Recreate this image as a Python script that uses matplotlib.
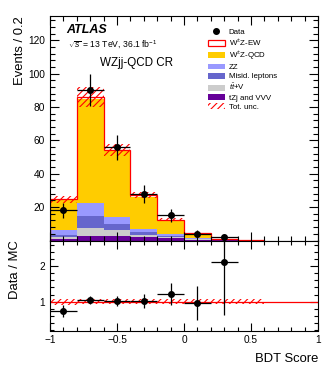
import numpy as np
import matplotlib
matplotlib.use("Agg")
import matplotlib.pyplot as plt
from matplotlib.ticker import MultipleLocator, FixedLocator
from matplotlib.patches import Patch
from matplotlib.lines import Line2D

plt.rcParams['font.family'] = ['Liberation Sans', 'DejaVu Sans']
plt.rcParams['mathtext.fontset'] = 'custom'
plt.rcParams['mathtext.rm'] = 'Liberation Sans'
plt.rcParams['mathtext.it'] = 'Liberation Sans:italic'
plt.rcParams['mathtext.bf'] = 'Liberation Sans:bold'
plt.rcParams['hatch.linewidth'] = 0.8

# ---------------- data ----------------
bin_edges = [-1.0, -0.8, -0.6, -0.4, -0.2, 0.0, 0.2, 0.4, 0.6]
tzj_vvv = [0.6, 2.8, 2.6, 1.8, 1.2, 0.4, 0.05, 0.0]
ttv = [1.2, 4.6, 3.4, 1.6, 0.8, 0.2, 0.05, 0.0]
misid = [1.6, 7.0, 3.8, 1.4, 0.8, 0.3, 0.05, 0.0]
zz = [3.0, 8.0, 4.0, 2.2, 1.0, 0.3, 0.05, 0.0]
wz_qcd = [18.0, 62.6, 39.6, 19.3, 7.6, 2.5, 0.25, 0.03]
wz_ew = [0.3, 0.8, 1.0, 1.0, 0.9, 0.5, 0.5, 0.12]
tot_unc = [2.2, 6.0, 3.7, 2.0, 0.9, 0.3, 0.07, 0.01]
data_x = [-0.9, -0.7, -0.5, -0.3, -0.1, 0.1, 0.3]
data_y = [18, 90, 56, 28, 15, 4, 2]
x_ticks = [-1, -0.5, 0, 0.5, 1]
x_ticklabels = ['\u22121', '\u22120.5', '0', '0.5', '1']
main_yticks = [20, 40, 60, 80, 100, 120]
ratio_yticks = [1, 2]

components = [
    (tzj_vvv, '#660099', 'tZj and VVV'),
    (ttv, '#cccccc', r'$t\bar{t}$+V'),
    (misid, '#6666cc', 'Misid. leptons'),
    (zz, '#9999ff', 'ZZ'),
    (wz_qcd, '#ffcc00', r'W$^{\pm}$Z-QCD'),
    (wz_ew, 'white', r'W$^{\pm}$Z-EW'),
]

edges = np.array(bin_edges)
W, H = 332, 370
fig = plt.figure(figsize=(W / 100, H / 100), dpi=100)
L, R = 50, 318
ax = fig.add_axes([L / W, 1 - 240.5 / H, (R - L) / W, (240.5 - 16) / H])
axr = fig.add_axes([L / W, 1 - 330.5 / H, (R - L) / W, (330.5 - 240.5) / H])

# stacked histogram
base = np.zeros(len(edges) - 1)
for vals, col, lab in components:
    v = np.array(vals)
    ax.stairs(base + v, edges, baseline=base, fill=True, color=col, lw=0)
    base = base + v
total = base
ax.stairs(total, edges, baseline=0, color='red', lw=0.9)
unc = np.array(tot_unc)
centers = 0.5 * (edges[1:] + edges[:-1])
ax.bar(centers, 2 * unc, bottom=total - unc, width=np.diff(edges), fill=False,
       hatch='/////', edgecolor='red', linewidth=0)

dy = np.array(data_y, dtype=float)
ax.errorbar(data_x, dy, xerr=0.1, yerr=np.sqrt(dy), fmt='o', color='black',
            ms=4, lw=0.9, capsize=0, zorder=5)

ax.set_xlim(-1, 1)
ax.set_ylim(0, 134.5)
ax.set_xticks(x_ticks)
ax.set_xticklabels([])
ax.xaxis.set_minor_locator(MultipleLocator(0.1))
ax.yaxis.set_major_locator(FixedLocator(main_yticks))
ax.yaxis.set_minor_locator(MultipleLocator(4))
ax.tick_params(which='both', direction='in', top=True, right=True, labelsize=7.3, pad=3.5)
ax.tick_params(which='major', length=6.5, width=0.8)
ax.tick_params(which='minor', length=3.3, width=0.8)
ax.set_ylabel('Events / 0.2', fontsize=9.4, loc='top')
ax.yaxis.set_label_coords(-0.09, 1.0)

ax.text(0.062, 0.925, 'ATLAS', transform=ax.transAxes, fontsize=9, fontweight='bold',
        fontstyle='italic', va='baseline')
ax.text(0.066, 0.87, r'$\sqrt{s}$ = 13 TeV, 36.1 fb$^{-1}$', transform=ax.transAxes,
        fontsize=6.2, va='center')
ax.text(0.187, 0.792, 'WZjj-QCD CR', transform=ax.transAxes, fontsize=8.4, va='center')

handles = [Line2D([], [], marker='o', color='black', ls='none', ms=4)]
labels = ['Data']
for vals, col, lab in reversed(components):
    if col == 'white':
        handles.append(Patch(facecolor='white', edgecolor='red', lw=0.9))
    else:
        handles.append(Patch(facecolor=col, edgecolor='none'))
    labels.append(lab)
handles.append(Patch(facecolor='none', edgecolor='red', hatch='/////', lw=0))
labels.append('Tot. unc.')
ax.legend(handles, labels, loc='upper left', bbox_to_anchor=(0.588, 0.945),
          frameon=False, fontsize=5.7, handlelength=2.15, handleheight=0.76,
          handletextpad=0.5, labelspacing=0.2, borderpad=0, borderaxespad=0)

# ratio panel
mc_at_data = total[:len(data_y)]
ratio = dy / mc_at_data
ratio_err = np.sqrt(dy) / mc_at_data
rel = unc / np.where(total > 0, total, 1)
axr.bar(centers, 2 * rel, bottom=1 - rel, width=np.diff(edges), fill=False,
        hatch='/////', edgecolor='red', linewidth=0)
axr.axhline(1, color='red', lw=0.9)
axr.errorbar(data_x, ratio, xerr=0.1, yerr=ratio_err, fmt='o', color='black',
             ms=4, lw=0.9, capsize=0, zorder=5)
axr.set_xlim(-1, 1)
axr.set_ylim(0.19, 2.72)
axr.set_xticks(x_ticks)
axr.set_xticklabels(x_ticklabels)
axr.xaxis.set_minor_locator(MultipleLocator(0.1))
axr.yaxis.set_major_locator(FixedLocator(ratio_yticks))
axr.yaxis.set_minor_locator(MultipleLocator(0.2))
axr.tick_params(which='both', direction='in', top=True, right=True, labelsize=7.3, pad=3.5)
axr.tick_params(which='major', length=6, width=0.8)
axr.tick_params(which='minor', length=3, width=0.8)
axr.set_ylabel('Data / MC', fontsize=9.4, loc='top')
axr.yaxis.set_label_coords(-0.108, 1.0)
axr.set_xlabel('BDT Score', fontsize=9.4, loc='right')
axr.xaxis.set_label_coords(1.0, -0.25)

fig.savefig('out.png', dpi=100)
